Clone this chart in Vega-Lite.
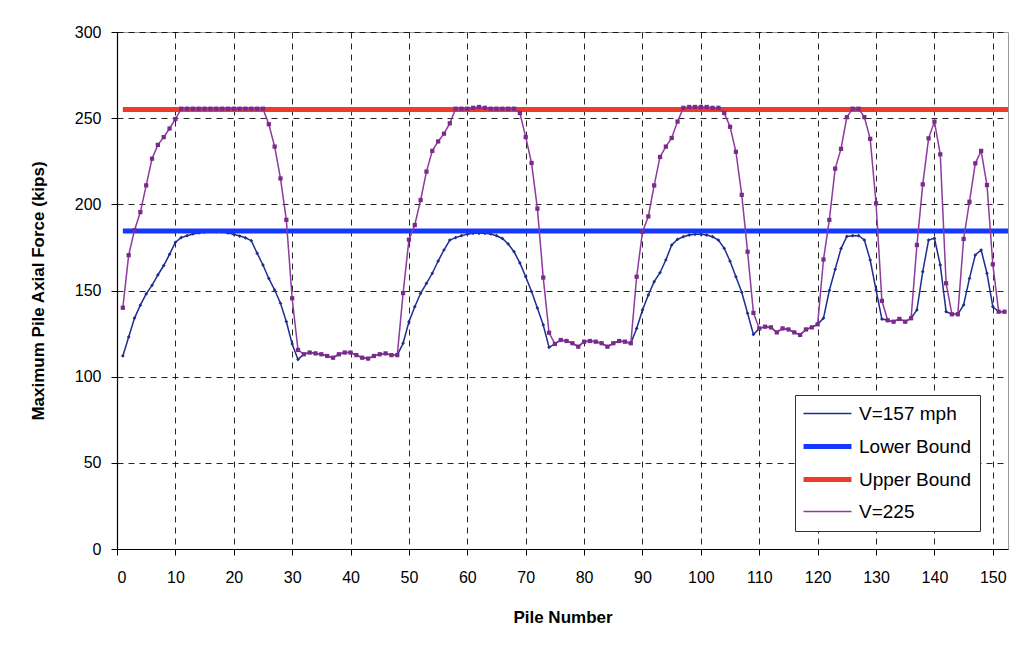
{
  "$schema": "https://vega.github.io/schema/vega-lite/v6.json",
  "width": 891,
  "height": 517,
  "autosize": {"type": "none"},
  "padding": {"left": 117, "top": 32, "right": 13, "bottom": 105},
  "background": "white",
  "config": {
    "font": "Liberation Sans",
    "view": {"stroke": "#9a9a9a", "strokeWidth": 1},
    "axis": {
      "grid": true,
      "gridColor": "#000000",
      "gridDash": [6, 5],
      "gridWidth": 1,
      "gridOpacity": 0.85,
      "domainColor": "#000000",
      "domainWidth": 1.2,
      "tickColor": "#000000",
      "tickSize": 6,
      "labelColor": "#000000",
      "labelFont": "Liberation Sans",
      "labelFontSize": 16,
      "titleColor": "#000000",
      "titleFont": "Liberation Sans",
      "titleFontSize": 17,
      "titleFontWeight": "bold"
    }
  },
  "datasets": {
    "piles": [
      {"pile":1,"V=157 mph":112,"V=225":140},
      {"pile":2,"V=157 mph":123,"V=225":170.5},
      {"pile":3,"V=157 mph":134,"V=225":185},
      {"pile":4,"V=157 mph":141.5,"V=225":195.5},
      {"pile":5,"V=157 mph":148,"V=225":211},
      {"pile":6,"V=157 mph":153,"V=225":226.5},
      {"pile":7,"V=157 mph":159,"V=225":234.5},
      {"pile":8,"V=157 mph":164.5,"V=225":239},
      {"pile":9,"V=157 mph":171,"V=225":244},
      {"pile":10,"V=157 mph":178,"V=225":249.5},
      {"pile":11,"V=157 mph":180.7,"V=225":255.5},
      {"pile":12,"V=157 mph":181.8,"V=225":255.5},
      {"pile":13,"V=157 mph":182.8,"V=225":255.5},
      {"pile":14,"V=157 mph":183.4,"V=225":255.5},
      {"pile":15,"V=157 mph":183.8,"V=225":255.5},
      {"pile":16,"V=157 mph":184.2,"V=225":255.5},
      {"pile":17,"V=157 mph":184.2,"V=225":255.5},
      {"pile":18,"V=157 mph":184,"V=225":255.5},
      {"pile":19,"V=157 mph":183.4,"V=225":255.5},
      {"pile":20,"V=157 mph":182.6,"V=225":255.5},
      {"pile":21,"V=157 mph":181.6,"V=225":255.5},
      {"pile":22,"V=157 mph":180.6,"V=225":255.5},
      {"pile":23,"V=157 mph":178.9,"V=225":255.5},
      {"pile":24,"V=157 mph":171.6,"V=225":255.5},
      {"pile":25,"V=157 mph":164.8,"V=225":255.5},
      {"pile":26,"V=157 mph":157,"V=225":246.5},
      {"pile":27,"V=157 mph":150.3,"V=225":233.5},
      {"pile":28,"V=157 mph":142.6,"V=225":215},
      {"pile":29,"V=157 mph":132,"V=225":191},
      {"pile":30,"V=157 mph":119,"V=225":145.5},
      {"pile":31,"V=157 mph":110,"V=225":115.5},
      {"pile":32,"V=157 mph":113,"V=225":113},
      {"pile":33,"V=157 mph":114,"V=225":114},
      {"pile":34,"V=157 mph":113.5,"V=225":113.5},
      {"pile":35,"V=157 mph":113,"V=225":113},
      {"pile":36,"V=157 mph":112,"V=225":112},
      {"pile":37,"V=157 mph":111,"V=225":111},
      {"pile":38,"V=157 mph":113,"V=225":113},
      {"pile":39,"V=157 mph":114,"V=225":114},
      {"pile":40,"V=157 mph":114,"V=225":114},
      {"pile":41,"V=157 mph":112.5,"V=225":112.5},
      {"pile":42,"V=157 mph":111,"V=225":111},
      {"pile":43,"V=157 mph":110.5,"V=225":110.5},
      {"pile":44,"V=157 mph":112,"V=225":112},
      {"pile":45,"V=157 mph":113,"V=225":113},
      {"pile":46,"V=157 mph":113.5,"V=225":113.5},
      {"pile":47,"V=157 mph":112.5,"V=225":112.5},
      {"pile":48,"V=157 mph":112.5,"V=225":112.5},
      {"pile":49,"V=157 mph":119.4,"V=225":148.5},
      {"pile":50,"V=157 mph":131.9,"V=225":179.5},
      {"pile":51,"V=157 mph":140.6,"V=225":188},
      {"pile":52,"V=157 mph":148.4,"V=225":202.5},
      {"pile":53,"V=157 mph":154.2,"V=225":219},
      {"pile":54,"V=157 mph":160,"V=225":231},
      {"pile":55,"V=157 mph":167.1,"V=225":236.5},
      {"pile":56,"V=157 mph":173.5,"V=225":241},
      {"pile":57,"V=157 mph":179.3,"V=225":247},
      {"pile":58,"V=157 mph":180.7,"V=225":255.5},
      {"pile":59,"V=157 mph":181.8,"V=225":255.5},
      {"pile":60,"V=157 mph":182.7,"V=225":255.5},
      {"pile":61,"V=157 mph":183.2,"V=225":256},
      {"pile":62,"V=157 mph":183.2,"V=225":256.5},
      {"pile":63,"V=157 mph":183.2,"V=225":256},
      {"pile":64,"V=157 mph":182.8,"V=225":255.5},
      {"pile":65,"V=157 mph":181.8,"V=225":255.5},
      {"pile":66,"V=157 mph":180.2,"V=225":255.5},
      {"pile":67,"V=157 mph":177,"V=225":255.5},
      {"pile":68,"V=157 mph":172.5,"V=225":255.5},
      {"pile":69,"V=157 mph":166,"V=225":253},
      {"pile":70,"V=157 mph":158,"V=225":239},
      {"pile":71,"V=157 mph":149.4,"V=225":224},
      {"pile":72,"V=157 mph":139.8,"V=225":197.5},
      {"pile":73,"V=157 mph":130,"V=225":157.5},
      {"pile":74,"V=157 mph":117,"V=225":125.5},
      {"pile":75,"V=157 mph":119,"V=225":119},
      {"pile":76,"V=157 mph":121.3,"V=225":121.3},
      {"pile":77,"V=157 mph":120.7,"V=225":120.7},
      {"pile":78,"V=157 mph":119.4,"V=225":119.4},
      {"pile":79,"V=157 mph":117.4,"V=225":117.4},
      {"pile":80,"V=157 mph":120.3,"V=225":120.3},
      {"pile":81,"V=157 mph":120.7,"V=225":120.7},
      {"pile":82,"V=157 mph":120.3,"V=225":120.3},
      {"pile":83,"V=157 mph":119.4,"V=225":119.4},
      {"pile":84,"V=157 mph":117.4,"V=225":117.4},
      {"pile":85,"V=157 mph":119.4,"V=225":119.4},
      {"pile":86,"V=157 mph":120.7,"V=225":120.7},
      {"pile":87,"V=157 mph":120.3,"V=225":120.3},
      {"pile":88,"V=157 mph":119.4,"V=225":119.4},
      {"pile":89,"V=157 mph":128,"V=225":158},
      {"pile":90,"V=157 mph":138.7,"V=225":184},
      {"pile":91,"V=157 mph":147.4,"V=225":193},
      {"pile":92,"V=157 mph":155.1,"V=225":211},
      {"pile":93,"V=157 mph":160.3,"V=225":227.5},
      {"pile":94,"V=157 mph":167.7,"V=225":233.5},
      {"pile":95,"V=157 mph":176.4,"V=225":238.5},
      {"pile":96,"V=157 mph":179.7,"V=225":248},
      {"pile":97,"V=157 mph":181.2,"V=225":256},
      {"pile":98,"V=157 mph":182.2,"V=225":256.5},
      {"pile":99,"V=157 mph":182.6,"V=225":256.5},
      {"pile":100,"V=157 mph":182.6,"V=225":256.5},
      {"pile":101,"V=157 mph":182.2,"V=225":256.5},
      {"pile":102,"V=157 mph":181.2,"V=225":256},
      {"pile":103,"V=157 mph":179.3,"V=225":256},
      {"pile":104,"V=157 mph":174.5,"V=225":253},
      {"pile":105,"V=157 mph":167,"V=225":245},
      {"pile":106,"V=157 mph":158,"V=225":230.5},
      {"pile":107,"V=157 mph":149,"V=225":205.5},
      {"pile":108,"V=157 mph":136.8,"V=225":172.5},
      {"pile":109,"V=157 mph":124.5,"V=225":137},
      {"pile":110,"V=157 mph":128,"V=225":128},
      {"pile":111,"V=157 mph":129,"V=225":129},
      {"pile":112,"V=157 mph":128.6,"V=225":128.6},
      {"pile":113,"V=157 mph":125.7,"V=225":125.7},
      {"pile":114,"V=157 mph":128,"V=225":128},
      {"pile":115,"V=157 mph":127.4,"V=225":127.4},
      {"pile":116,"V=157 mph":125.7,"V=225":125.7},
      {"pile":117,"V=157 mph":124.2,"V=225":124.2},
      {"pile":118,"V=157 mph":127.4,"V=225":127.4},
      {"pile":119,"V=157 mph":128.6,"V=225":128.6},
      {"pile":120,"V=157 mph":130.4,"V=225":130.4},
      {"pile":121,"V=157 mph":134,"V=225":168},
      {"pile":122,"V=157 mph":150,"V=225":191},
      {"pile":123,"V=157 mph":162.3,"V=225":220.7},
      {"pile":124,"V=157 mph":174.3,"V=225":232.2},
      {"pile":125,"V=157 mph":181.4,"V=225":250.6},
      {"pile":126,"V=157 mph":181.8,"V=225":255.5},
      {"pile":127,"V=157 mph":181.8,"V=225":255.5},
      {"pile":128,"V=157 mph":179.3,"V=225":250.6},
      {"pile":129,"V=157 mph":167.7,"V=225":238},
      {"pile":130,"V=157 mph":150.3,"V=225":200.6},
      {"pile":131,"V=157 mph":133.4,"V=225":144},
      {"pile":132,"V=157 mph":132.7,"V=225":132.7},
      {"pile":133,"V=157 mph":131.9,"V=225":131.9},
      {"pile":134,"V=157 mph":133.5,"V=225":133.5},
      {"pile":135,"V=157 mph":131.9,"V=225":131.9},
      {"pile":136,"V=157 mph":133.9,"V=225":133.9},
      {"pile":137,"V=157 mph":138.7,"V=225":176.4},
      {"pile":138,"V=157 mph":160.9,"V=225":211.6},
      {"pile":139,"V=157 mph":179.3,"V=225":238.3},
      {"pile":140,"V=157 mph":180.3,"V=225":248},
      {"pile":141,"V=157 mph":164.8,"V=225":229},
      {"pile":142,"V=157 mph":137.7,"V=225":154.2},
      {"pile":143,"V=157 mph":136.2,"V=225":136.2},
      {"pile":144,"V=157 mph":136.2,"V=225":136.2},
      {"pile":145,"V=157 mph":141.6,"V=225":179.9},
      {"pile":146,"V=157 mph":157,"V=225":201.5},
      {"pile":147,"V=157 mph":170.6,"V=225":223.8},
      {"pile":148,"V=157 mph":173.5,"V=225":231},
      {"pile":149,"V=157 mph":160,"V=225":211.2},
      {"pile":150,"V=157 mph":140.6,"V=225":165.2},
      {"pile":151,"V=157 mph":137.7,"V=225":137.7},
      {"pile":152,"V=157 mph":137.7,"V=225":137.7}
    ],
    "bounds": [
      {"pile": 1, "series": "Lower Bound", "value": 184.5},
      {"pile": 152.6, "series": "Lower Bound", "value": 184.5},
      {"pile": 1, "series": "Upper Bound", "value": 255},
      {"pile": 152.6, "series": "Upper Bound", "value": 255}
    ]
  },
  "encoding": {
    "x": {
      "field": "pile",
      "type": "quantitative",
      "scale": {"domain": [0, 152.6], "nice": false, "zero": false},
      "axis": {
        "title": "Pile Number",
        "values": [0, 10, 20, 30, 40, 50, 60, 70, 80, 90, 100, 110, 120, 130, 140, 150],
        "labelPadding": 14,
        "titlePadding": 24
      }
    },
    "y": {
      "field": "value",
      "type": "quantitative",
      "scale": {"domain": [0, 300], "nice": false},
      "axis": {
        "title": "Maximum Pile Axial Force (kips)",
        "values": [0, 50, 100, 150, 200, 250, 300],
        "labelPadding": 10,
        "titlePadding": 27
      }
    }
  },
  "layer": [
    {
      "data": {"name": "piles"},
      "transform": [{"fold": ["V=157 mph"], "as": ["series", "value"]}],
      "mark": {"type": "line", "strokeWidth": 1.5, "clip": true},
      "encoding": {
        "color": {
          "field": "series",
          "type": "nominal",
          "scale": {
            "domain": ["V=157 mph", "Lower Bound", "Upper Bound", "V=225"],
            "range": ["#1f2d8e", "#1438ff", "#ef3b2c", "#8e3a9e"]
          },
          "legend": {
            "title": null,
            "orient": "none",
            "legendX": 678,
            "legendY": 363,
            "direction": "vertical",
            "symbolType": "stroke",
            "symbolSize": 2300,
            "symbolStrokeWidth": 1.5,
            "symbolOffset": 14,
            "labelFontSize": 19,
            "labelFont": "Liberation Sans",
            "labelColor": "#000000",
            "labelOffset": 22,
            "rowPadding": 12,
            "padding": 9,
            "fillColor": "white",
            "strokeColor": "#333333",
            "encode": {
              "symbols": {
                "update": {
                  "strokeWidth": {"signal": "datum.value === 'Lower Bound' || datum.value === 'Upper Bound' ? 5 : 1.5"}
                }
              }
            }
          }
        }
      }
    },
    {
      "data": {"name": "piles"},
      "transform": [{"fold": ["V=157 mph"], "as": ["series", "value"]}],
      "mark": {"type": "point", "shape": "diamond", "filled": true, "size": 14, "color": "#1f2d8e", "opacity": 1}
    },
    {
      "data": {"name": "bounds"},
      "mark": {"type": "line", "strokeWidth": 5, "clip": true},
      "encoding": {
        "color": {"field": "series", "type": "nominal"},
        "detail": {"field": "series"}
      }
    },
    {
      "data": {"name": "piles"},
      "transform": [{"fold": ["V=225"], "as": ["series", "value"]}],
      "mark": {"type": "line", "strokeWidth": 1.5, "clip": true},
      "encoding": {
        "color": {"field": "series", "type": "nominal"}
      }
    },
    {
      "data": {"name": "piles"},
      "transform": [{"fold": ["V=225"], "as": ["series", "value"]}],
      "mark": {"type": "point", "shape": "square", "filled": true, "size": 18, "color": "#7a2a8a", "opacity": 1}
    }
  ]
}
